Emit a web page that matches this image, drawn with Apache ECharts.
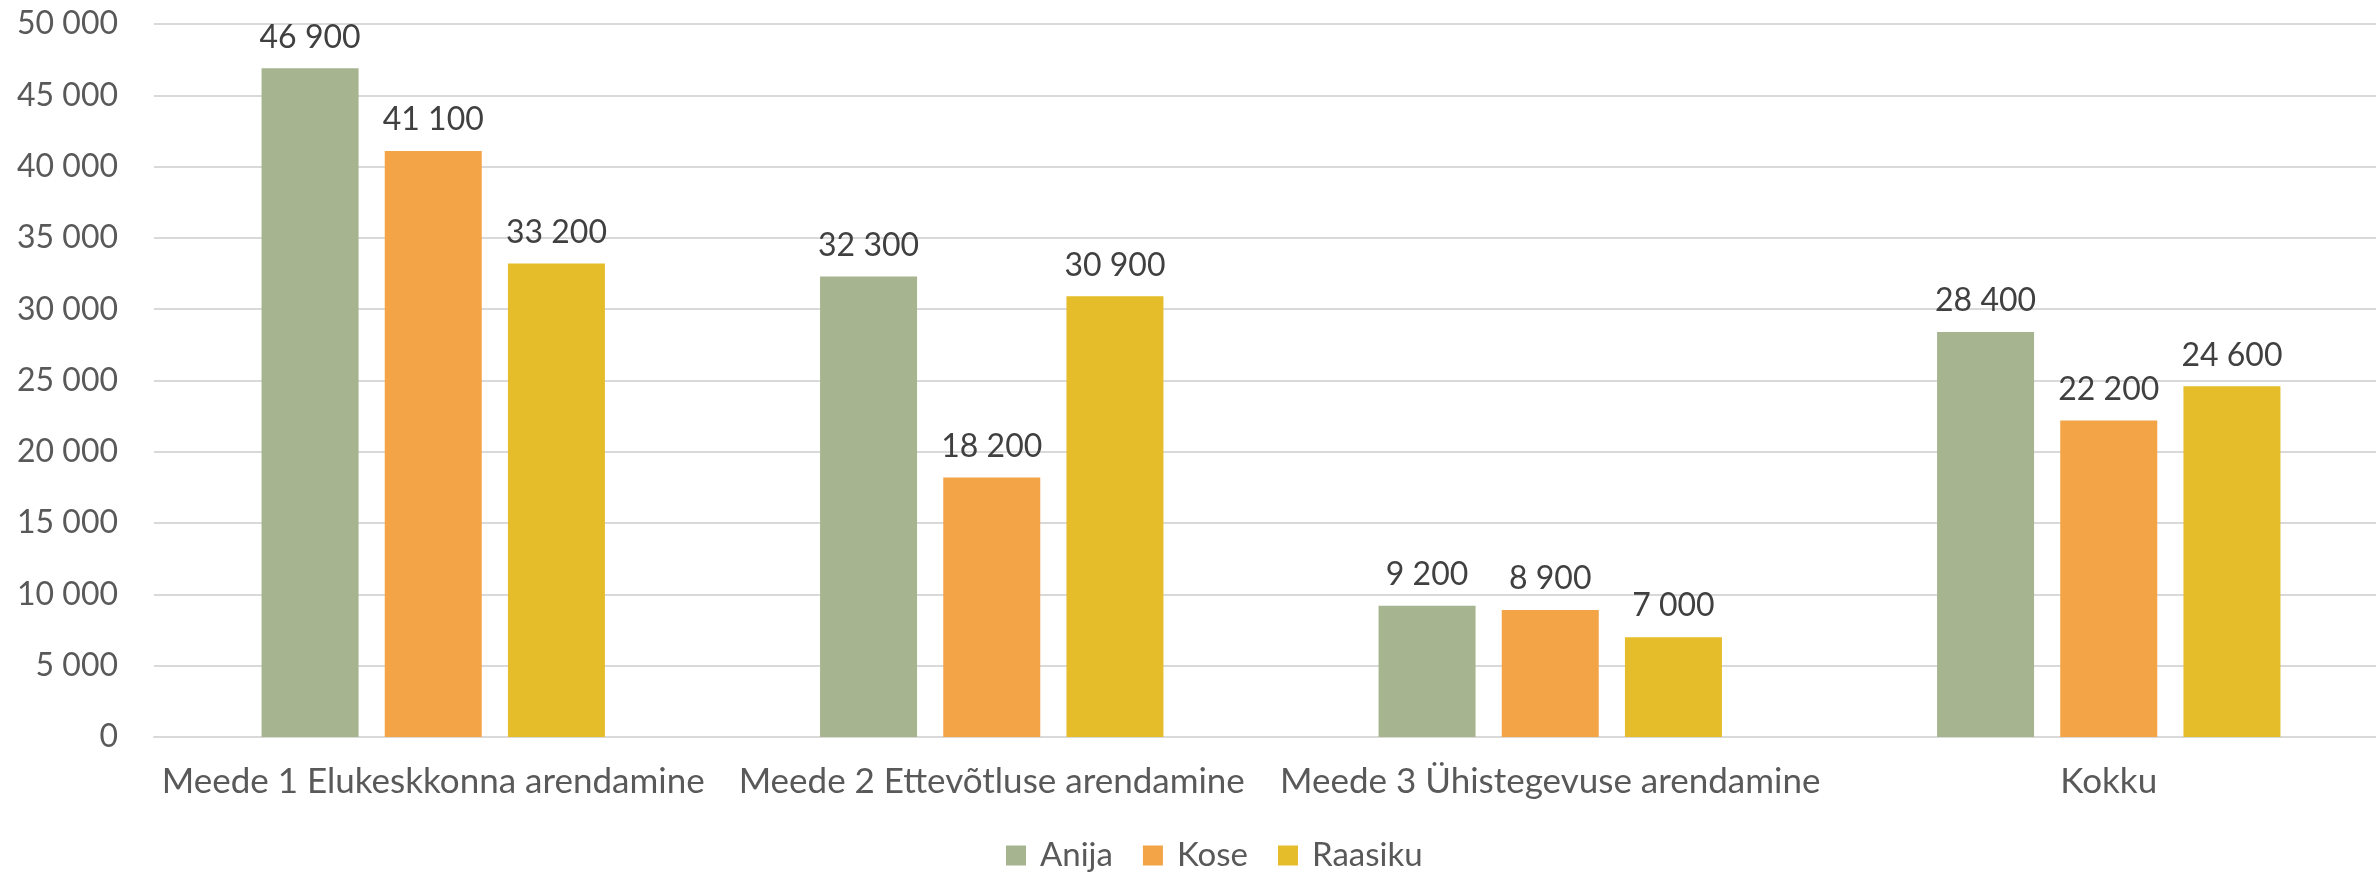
<!DOCTYPE html>
<html>
<head>
<meta charset="utf-8">
<script src="https://cdn.jsdelivr.net/npm/echarts@6/dist/echarts.min.js"></script>
<style>
  html, body { margin: 0; padding: 0; background: #fff; overflow: hidden; }
  /* the plot area runs a little past the right edge of the picture */
  #chart { width: 2388px; height: 872px; }
</style>
</head>
<body>
<div id="chart"></div>
<script>
const categories = [
  'Meede 1 Elukeskkonna arendamine',
  'Meede 2 Ettevõtluse arendamine',
  'Meede 3 Ühistegevuse arendamine',
  'Kokku',
]
const seriesNames = ['Anija', 'Kose', 'Raasiku']
const anija = [46900, 32300, 9200, 28400]
const kose = [41100, 18200, 8900, 22200]
const raasiku = [33200, 30900, 7000, 24600]
const colors = ['#A6B490', '#F2A446', '#E5BC29']

const fmt = (v) => String(v).replace(/\B(?=(\d{3})+(?!\d))/g, ' ')

const chart = echarts.init(document.getElementById('chart'))

const makeSeries = (name, data, color) => ({
  name: name,
  type: 'bar',
  data: data,
  barWidth: 97,
  barGap: '27%',
  itemStyle: { color: color },
  label: {
    show: true,
    position: 'top',
    distance: 15,
    formatter: (p) => fmt(p.value),
    fontFamily: 'Lato',
    fontSize: 32,
    color: '#404040',
  },
})

const option = {
  animation: false,
  backgroundColor: '#ffffff',
  textStyle: { fontFamily: 'Lato' },
  grid: { left: 154, right: 0, top: 24, bottom: 135 },
  legend: {
    data: seriesNames,
    left: 1001,
    top: 834,
    icon: 'rect',
    itemWidth: 20,
    itemHeight: 20,
    itemGap: 30,
    textStyle: {
      fontFamily: 'Lato',
      fontSize: 33,
      color: '#595959',
      padding: [0, 0, 0, 9],
    },
  },
  xAxis: {
    type: 'category',
    data: categories,
    axisTick: { show: false },
    axisLine: { lineStyle: { color: '#D9D9D9', width: 2 } },
    axisLabel: {
      interval: 0,
      fontFamily: 'Lato',
      fontSize: 35,
      color: '#595959',
      margin: 27,
    },
  },
  yAxis: {
    type: 'value',
    min: 0,
    max: 50000,
    interval: 5000,
    axisLine: { show: false },
    axisTick: { show: false },
    splitLine: { lineStyle: { color: '#D9D9D9', width: 2 } },
    axisLabel: {
      formatter: fmt,
      fontFamily: 'Lato',
      fontSize: 32,
      color: '#595959',
      margin: 36,
    },
  },
  series: [
    makeSeries(seriesNames[0], anija, colors[0]),
    makeSeries(seriesNames[1], kose, colors[1]),
    makeSeries(seriesNames[2], raasiku, colors[2]),
  ],
}

option && chart.setOption(option)
</script>
</body>
</html>
